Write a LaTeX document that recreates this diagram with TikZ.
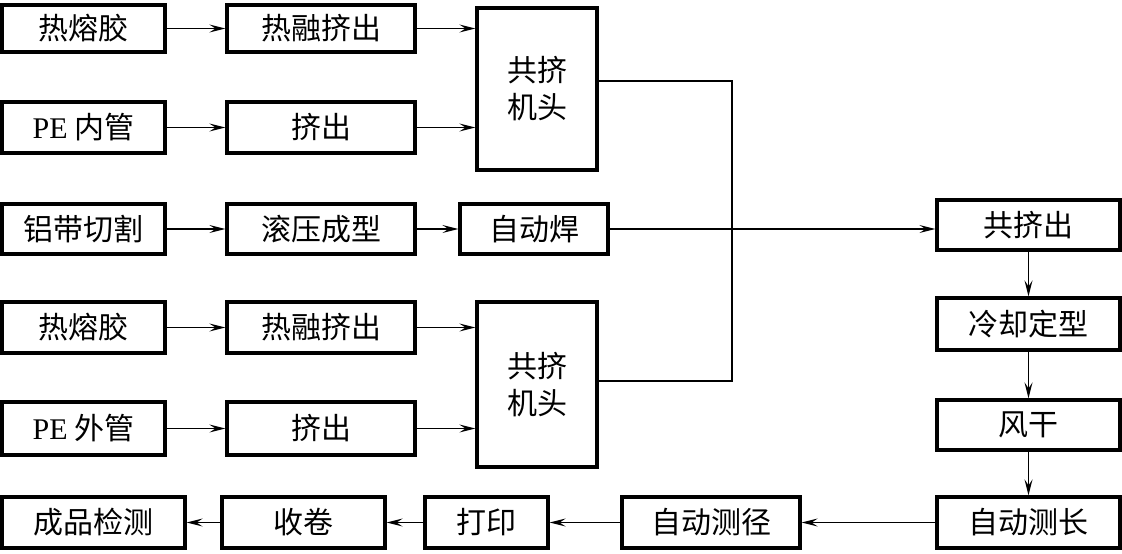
\documentclass[tikz,border=0pt]{standalone}
\usepackage{fontspec}
\setmainfont{Liberation Serif}
\newfontfamily\cjk{Noto Sans CJK SC}
\usetikzlibrary{arrows.meta}
\begin{document}
\begin{tikzpicture}[x=1pt,y=-1pt,
  box/.style={draw, line width=3.2pt, inner sep=0pt, font=\cjk\fontsize{30}{37}\selectfont, align=center},
  conn/.style={line width=1.4pt},
  arr/.style={conn, -{Stealth[length=16pt,width=8pt,inset=6pt]}}]
\useasboundingbox (0,0) rectangle (1122,554);
\newcommand\mybox[6]{\node[box, minimum width={(#4-#2)*1pt}, minimum height={(#5-#3)*1pt}] (#1) at ({(#2+#4)/2},{(#3+#5)/2}) {#6};}
% column 1
\mybox{a1}{2}{5}{165}{52}{热熔胶}
\mybox{a2}{2}{102}{165}{153}{{\rmfamily PE} 内管}
\mybox{a3}{2}{204}{165}{254}{铝带切割}
\mybox{a4}{2}{302}{165}{353}{热熔胶}
\mybox{a5}{2}{402}{165}{455}{{\rmfamily PE} 外管}
% column 2
\mybox{b1}{227}{5}{415}{52}{热融挤出}
\mybox{b2}{227}{102}{415}{153}{挤出}
\mybox{b3}{227}{204}{415}{254}{滚压成型}
\mybox{b4}{227}{302}{415}{353}{热融挤出}
\mybox{b5}{227}{402}{415}{455}{挤出}
% heads
\mybox{h1}{477}{8}{597}{170}{共挤\\机头}
\mybox{c3}{460}{204}{608}{254}{自动焊}
\mybox{h2}{477}{302}{597}{467}{共挤\\机头}
% right column
\mybox{r1}{937}{200}{1120}{250}{共挤出}
\mybox{r2}{937}{298}{1120}{350}{冷却定型}
\mybox{r3}{937}{400}{1120}{450}{风干}
\mybox{r4}{937}{497}{1120}{548}{自动测长}
% bottom row
\mybox{d1}{2}{497}{185}{548}{成品检测}
\mybox{d2}{222}{497}{385}{548}{收卷}
\mybox{d3}{425}{497}{548}{548}{打印}
\mybox{d4}{622}{497}{800}{548}{自动测径}
% connectors
\foreach \i in {1,...,5} {\draw[arr] (a\i) -- (b\i);}
\draw[arr] (b1.east) -- (b1.east -| h1.west);
\draw[arr] (b2.east) -- (b2.east -| h1.west);
\draw[arr] (b3) -- (c3);
\draw[arr] (b4.east) -- (b4.east -| h2.west);
\draw[arr] (b5.east) -- (b5.east -| h2.west);
\coordinate (j1) at (732,81);
\coordinate (j2) at (732,381);
\draw[conn] (h1.east |- j1) -- (j1) -- (j2) -- (h2.east |- j2);
\draw[arr] (c3.east) -- (c3.east -| r1.west);
\draw[arr] (r1) -- (r2);
\draw[arr] (r2) -- (r3);
\draw[arr] (r3) -- (r4);
\draw[arr] (r4) -- (d4);
\draw[arr] (d4) -- (d3);
\draw[arr] (d3) -- (d2);
\draw[arr] (d2) -- (d1);
\end{tikzpicture}
\end{document}
